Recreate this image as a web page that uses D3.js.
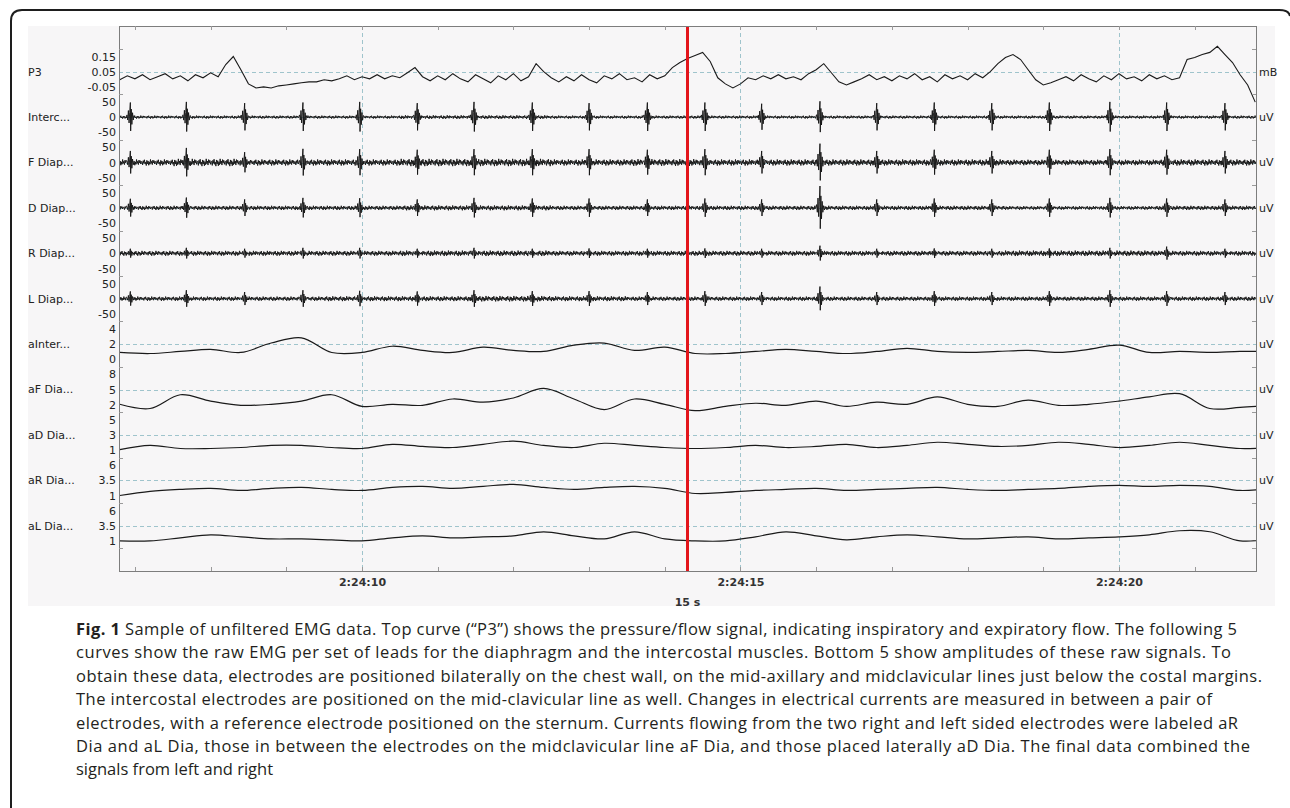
<!DOCTYPE html>
<html>
<head>
<meta charset="utf-8">
<script src="https://cdn.jsdelivr.net/npm/d3@7"></script>
<style>
body { margin: 0; background: #fff; }
svg { display: block; }
</style>
</head>
<body>
<script>
var width = 1290, height = 808

// time is seconds after 2:24:00
var timeStart = 6.79
var timeEnd = 21.81
var majorTicks = [10, 15, 20]
var cursorTime = 14.3
var spanLabel = "15 s"

var channels = ["P3", "Interc...", "F Diap...", "D Diap...", "R Diap...", "L Diap...",
  "aInter...", "aF Dia...", "aD Dia...", "aR Dia...", "aL Dia..."]
var units = ["mB", "uV", "uV", "uV", "uV", "uV", "uV", "uV", "uV", "uV", "uV"]
var tickLabels = [
  [0.15, 0.05, -0.05], [50, 0, -50], [50, 0, -50], [50, 0, -50], [50, 0, -50], [50, 0, -50],
  [4, 2, 0], [8, 5, 2], [5, 3, 1], [6, 3.5, 1], [6, 3.5, 1]
]

// pressure/flow (mB), one value every 0.1 s from 6.8 s
var p3Start = 6.8, p3Step = 0.1
var p3 = [
  -0.003,0.023,0.003,0.03,-0.003,0.017,0.037,0.003,0.023,-0.01,0.03,0.01,0.043,0.017,
  0.097,0.15,0.063,
  -0.03,-0.057,-0.05,-0.057,
  -0.043,-0.037,-0.03,-0.023,-0.017,-0.017,-0.003,-0.01,
  0.003,0.023,-0.003,0.017,0.003,0.03,0.003,0.023,0.01,0.043,0.077,0.017,
  -0.01,0.023,-0.003,0.037,0.003,-0.017,0.03,0.003,-0.023,0.023,-0.003,0.037,-0.01,0.017,
  0.103,0.05,0.01,-0.017,
  0.017,-0.01,0.03,-0.003,-0.023,0.023,0.003,0.037,-0.003,0.01,-0.017,0.03,0.003,0.023,
  0.077,0.11,0.137,0.157,0.177,
  0.117,0.01,-0.03,-0.057,-0.03,0.01,
  -0.003,0.023,0.003,0.03,0.003,0.017,-0.003,0.037,0.063,0.103,0.043,-0.017,-0.037,-0.017,
  0.003,0.03,-0.003,0.017,-0.01,0.023,0.003,0.037,-0.003,0.017,-0.017,0.03,0.003,0.023,-0.003,0.037,0.01,0.05,
  0.103,0.143,0.163,0.13,0.063,
  -0.003,-0.037,-0.023,-0.003,
  0.017,-0.01,0.03,0.003,-0.017,0.023,-0.003,0.037,0.003,0.017,-0.01,0.03,0.003,0.023,-0.003,0.01,
  0.13,0.143,0.163,0.177,0.217,0.163,0.11,0.03,-0.037,-0.15
]

// heart beat artefacts seen in the raw EMG, seconds
var beats = [6.94,7.68,8.45,9.22,9.97,10.73,11.48,12.25,13.00,13.77,14.53,15.28,16.05,16.80,17.56,18.32,19.08,19.88,20.63,21.40]

// spike height per beat (uV) for the five raw channels
var spikeInterc = [48,50,46,48,50,46,50,48,46,48,48,44,52,46,48,46,48,50,48,46]
var spikeFDiap = [38,48,34,45,44,42,44,44,44,42,44,38,62,38,42,38,42,44,42,38]
var spikeDDiap = [30,34,28,33,32,28,33,31,31,28,31,28,72,28,31,28,31,33,31,28]
var spikeRDiap = [15,18,15,18,18,15,18,15,16,15,16,15,25,15,16,15,16,18,22,15]
var spikeLDiap = [24,28,22,28,26,24,28,25,25,22,25,22,40,22,25,22,25,28,25,22]

// half width of the noise band (uV), one value per second from 7 s
var noiseInterc = [5,5,5,5,6,6,5,5,5,5,5,5,5,5,5,5]
var noiseFDiap = [10,12,10,10,12,12,10,11,10,10,10,10,9,9,10,10]
var noiseDDiap = [7,7,7,7,8,8,7,7,7,7,7,7,6,6,7,7]
var noiseRDiap = [8,8,8,8,9,9,8,8,8,8,8,8,9,9,8,8]
var noiseLDiap = [7,7,7,8,8,9,8,7,7,7,7,7,7,7,7,7]

// amplitudes, one value every 0.4 s from 6.8 s
var ampStart = 6.8, ampStep = 0.4
var aInter = [0.90,0.76,1.03,1.31,0.90,2.14,2.83,0.90,0.90,1.72,1.17,0.90,1.59,1.17,1.03,1.86,2.14,1.17,1.59,0.76,
  0.76,1.03,1.31,1.03,0.76,1.03,1.45,1.03,0.90,1.03,1.17,0.90,1.31,1.86,0.90,1.03,0.90,1.03,1.03]
var aFDia = [2.08,1.25,3.96,2.71,1.88,2.08,2.71,3.96,1.67,2.08,1.88,3.13,2.50,3.33,5.21,3.13,1.04,3.13,2.08,0.83,
  1.67,2.29,1.88,2.71,1.67,2.50,2.08,3.54,2.08,1.67,2.92,1.88,2.08,2.71,3.54,4.17,1.25,1.46,1.88]
var aDDia = [1.07,1.62,1.21,1.21,1.34,1.62,1.62,1.34,1.21,1.76,1.48,1.34,1.76,2.17,1.62,1.34,1.90,1.62,1.34,1.21,
  1.34,1.62,1.34,1.48,1.76,1.34,1.62,2.03,1.76,1.48,1.62,2.03,1.76,1.34,1.62,2.03,1.62,1.21,1.34]
var aRDia = [1.0,1.67,2.0,2.17,1.83,2.17,2.33,2.0,1.83,2.33,2.5,2.17,2.5,2.83,2.33,2.0,2.33,2.5,2.17,1.33,
  1.5,1.83,2.0,2.17,1.83,2.0,2.17,2.33,2.0,1.83,2.0,2.17,2.5,2.67,2.5,2.67,2.5,1.83,2.17]
var aLDia = [1.0,1.0,1.5,2.0,1.67,1.33,1.33,1.17,1.0,1.5,1.83,1.5,1.67,1.83,2.5,1.83,1.33,2.5,1.33,1.0,
  1.0,1.67,2.5,1.83,1.17,1.67,2.0,1.67,1.33,1.5,1.67,1.33,1.5,1.67,2.0,2.67,2.5,1.0,1.33]

var captionLines = [
  "Sample of unfiltered EMG data. Top curve (\u201cP3\u201d) shows the pressure/flow signal, indicating inspiratory and expiratory flow. The following 5",
  "curves show the raw EMG per set of leads for the diaphragm and the intercostal muscles. Bottom 5 show amplitudes of these raw signals. To",
  "obtain these data, electrodes are positioned bilaterally on the chest wall, on the mid-axillary and midclavicular lines just below the costal margins.",
  "The intercostal electrodes are positioned on the mid-clavicular line as well. Changes in electrical currents are measured in between a pair of",
  "electrodes, with a reference electrode positioned on the sternum. Currents flowing from the two right and left sided electrodes were labeled aR",
  "Dia and aL Dia, those in between the electrodes on the midclavicular line aF Dia, and those placed laterally aD Dia. The final data combined the",
  "signals from left and right"
]
var captionEnds = [1237, 1231, 1262, 1212, 1238, 1250, null]

var emg = [
  {ch: 1, spikes: spikeInterc, noise: noiseInterc},
  {ch: 2, spikes: spikeFDiap, noise: noiseFDiap},
  {ch: 3, spikes: spikeDDiap, noise: noiseDDiap},
  {ch: 4, spikes: spikeRDiap, noise: noiseRDiap},
  {ch: 5, spikes: spikeLDiap, noise: noiseLDiap}
]
var amps = [
  {ch: 6, values: aInter}, {ch: 7, values: aFDia}, {ch: 8, values: aDDia},
  {ch: 9, values: aRDia}, {ch: 10, values: aLDia}
]

// shape of one artefact burst and the texture of the noise band
var spikeOffsets = [-0.045,-0.035,-0.026,-0.017,-0.009,0,0.004,0.012,0.02,0.029,0.038,0.048]
var spikeShapeVals = [0.15,-0.2,0.45,-0.4,0.3,1,-0.95,0.55,-0.5,0.3,-0.2,0.1]
var jitter = [0.3,-0.8,0.6,-0.2,0.9,-0.5,0.1,-1,0.7,-0.4,0.5,-0.9,0.2,-0.6,1,-0.3,0.4,-0.7,0.8,-0.1,0.6,-0.5,0.3]

var plot = {left: 119, right: 1256, top: 26, bottom: 571}

var x = d3.scaleLinear().domain([timeStart, timeEnd]).range([plot.left, plot.right])
var band = d3.scaleBand().domain(channels).range([49, 548.4])

function yScale(i) {
  var y0 = band(channels[i]), bw = band.bandwidth()
  var t = tickLabels[i]
  return d3.scaleLinear().domain([t[2], t[0]]).range([y0 + bw - 7.5, y0 + 7.5])
}

function emgPoints(e, k) {
  var pts = []
  var n = 0
  for (var t = timeStart; t <= timeEnd; t += 0.008) {
    n++
    var near = beats.some(function(b) { return t > b - 0.047 && t < b + 0.05 })
    if (near) continue
    var env = e.noise[Math.max(0, Math.min(e.noise.length - 1, Math.round(t - 7)))]
    pts.push([t, env * jitter[(n + k * 7) % jitter.length]])
  }
  // beat bursts
  e.spikes.forEach(function(a, j) {
    spikeOffsets.forEach(function(o, m) {
      pts.push([beats[j] + o, a * spikeShapeVals[m]])
    })
  })
  return pts.sort(function(a, b) { return a[0] - b[0] })
}

var svg = d3.select("body")
  .append("svg")
  .attr("width", width)
  .attr("height", height)

// outer frame
svg.append("path")
  .attr("d", "M11,808 V21 Q11,10 22,10 H1279 Q1289,10 1290,16")
  .attr("fill", "none")
  .attr("stroke", "#1e1e1e")
  .attr("stroke-width", 2)

svg.append("rect")
  .attr("x", 28).attr("y", 26)
  .attr("width", 1247).attr("height", 580)
  .attr("fill", "#f7f6f7")

svg.append("defs").append("clipPath")
  .attr("id", "plotClip")
  .append("rect")
  .attr("x", plot.left).attr("y", plot.top)
  .attr("width", plot.right - plot.left).attr("height", plot.bottom - plot.top)

var grid = svg.append("g")
  .attr("stroke", "#9fc4cc")
  .attr("stroke-width", 1)
  .attr("stroke-dasharray", "4,3")

grid.selectAll(".vgrid")
  .data(majorTicks)
  .enter()
  .append("line")
  .attr("x1", function(d) { return Math.round(x(d)) + 0.5 })
  .attr("x2", function(d) { return Math.round(x(d)) + 0.5 })
  .attr("y1", plot.top)
  .attr("y2", plot.bottom)

grid.selectAll(".hgrid")
  .data(tickLabels)
  .enter()
  .append("line")
  .attr("x1", plot.left)
  .attr("x2", plot.right)
  .attr("y1", function(d, i) { return Math.round(yScale(i)(d[1])) + 0.5 })
  .attr("y2", function(d, i) { return Math.round(yScale(i)(d[1])) + 0.5 })

var traces = svg.append("g").attr("clip-path", "url(#plotClip)")

var p3Line = d3.line()
  .x(function(d, i) { return x(p3Start + i * p3Step) })
  .y(function(d) { return yScale(0)(d) })

traces.append("path")
  .datum(p3)
  .attr("d", p3Line)
  .attr("fill", "none")
  .attr("stroke", "#1a1a1a")
  .attr("stroke-width", 1.1)

emg.forEach(function(e, k) {
  var ys = yScale(e.ch)
  traces.append("path")
    .datum(emgPoints(e, k))
    .attr("d", d3.line()
      .x(function(d) { return x(d[0]) })
      .y(function(d) { return ys(d[1]) }))
    .attr("fill", "none")
    .attr("stroke", "#111")
    .attr("stroke-width", 0.9)
})

amps.forEach(function(a) {
  var ys = yScale(a.ch)
  traces.append("path")
    .datum(a.values)
    .attr("d", d3.line()
      .x(function(d, i) { return x(ampStart + i * ampStep) })
      .y(function(d) { return ys(d) })
      .curve(d3.curveCatmullRom))
    .attr("fill", "none")
    .attr("stroke", "#1a1a1a")
    .attr("stroke-width", 1.2)
})

// cursor
svg.append("line")
  .attr("x1", x(cursorTime)).attr("x2", x(cursorTime))
  .attr("y1", plot.top).attr("y2", plot.bottom)
  .attr("stroke", "#e3151b")
  .attr("stroke-width", 3)

svg.append("rect")
  .attr("x", plot.left + 0.5).attr("y", plot.top + 0.5)
  .attr("width", plot.right - plot.left).attr("height", plot.bottom - plot.top)
  .attr("fill", "none")
  .attr("stroke", "#7d7d7d")

// minor second ticks, top and bottom
var seconds = d3.range(Math.ceil(timeStart), Math.floor(timeEnd) + 1)
var tickG = svg.append("g").attr("stroke", "#9a9a9a")
tickG.selectAll(".tb")
  .data(seconds)
  .enter()
  .append("line")
  .attr("x1", function(d) { return Math.round(x(d)) + 0.5 })
  .attr("x2", function(d) { return Math.round(x(d)) + 0.5 })
  .attr("y1", plot.bottom)
  .attr("y2", plot.bottom - 4)
tickG.selectAll(".tt")
  .data(seconds)
  .enter()
  .append("line")
  .attr("x1", function(d) { return Math.round(x(d)) + 0.5 })
  .attr("x2", function(d) { return Math.round(x(d)) + 0.5 })
  .attr("y1", plot.top)
  .attr("y2", plot.top + 4)

// channel boundary ticks on both sides
var bounds = channels.map(function(c) { return band(c) }).concat([band.range()[1]])
tickG.selectAll(".bl")
  .data(bounds)
  .enter()
  .append("line")
  .attr("x1", plot.left).attr("x2", plot.left + 4)
  .attr("y1", function(d) { return Math.round(d) + 0.5 })
  .attr("y2", function(d) { return Math.round(d) + 0.5 })
tickG.selectAll(".br")
  .data(bounds)
  .enter()
  .append("line")
  .attr("x1", plot.right).attr("x2", plot.right - 4)
  .attr("y1", function(d) { return Math.round(d) + 0.5 })
  .attr("y2", function(d) { return Math.round(d) + 0.5 })

var labelFont = "'DejaVu Sans', Verdana, sans-serif"

channels.forEach(function(c, i) {
  var ys = yScale(i)
  var ax = svg.append("g")
    .attr("transform", "translate(" + (plot.left - 3) + ",0)")
    .call(d3.axisLeft(ys).tickValues(tickLabels[i]).tickSize(0).tickPadding(0)
      .tickFormat(function(d) { return String(d) }))
  ax.select(".domain").remove()
  ax.selectAll("text")
    .attr("font-family", labelFont)
    .attr("font-size", 11)
    .attr("fill", "#222")

  svg.append("text")
    .attr("x", 28)
    .attr("y", band(c) + band.bandwidth() / 2)
    .attr("dy", "0.35em")
    .attr("font-family", labelFont)
    .attr("font-size", 11)
    .attr("fill", "#222")
    .text(c)

  svg.append("text")
    .attr("x", plot.right + 3)
    .attr("y", ys(tickLabels[i][1]))
    .attr("dy", "0.35em")
    .attr("font-family", labelFont)
    .attr("font-size", 11)
    .attr("fill", "#222")
    .text(units[i])
})

var xAxis = svg.append("g")
  .attr("transform", "translate(0," + (plot.bottom + 4) + ")")
  .call(d3.axisBottom(x).tickValues(majorTicks).tickSize(0)
    .tickFormat(function(d) { return "2:24:" + d }))
xAxis.select(".domain").remove()
xAxis.selectAll("text")
  .attr("font-family", labelFont)
  .attr("font-size", 11)
  .attr("font-weight", "bold")
  .attr("fill", "#333")

svg.append("text")
  .attr("x", (plot.left + plot.right) / 2)
  .attr("y", 606)
  .attr("text-anchor", "middle")
  .attr("font-family", labelFont)
  .attr("font-size", 11)
  .attr("font-weight", "bold")
  .attr("fill", "#333")
  .text(spanLabel)

// caption
var cap = svg.append("g")
  .attr("font-family", "'Open Sans', sans-serif")
  .attr("font-size", 16.5)
  .attr("fill", "#231f20")

captionLines.forEach(function(line, i) {
  var t = cap.append("text")
    .attr("x", 76)
    .attr("y", 635 + i * 23.4)
  if (captionEnds[i]) {
    t.attr("textLength", captionEnds[i] - 76).attr("lengthAdjust", "spacing")
  }
  if (i === 0) {
    t.append("tspan").attr("font-weight", "bold").text("Fig. 1 ")
  }
  t.append("tspan").text(line)
})
</script>
</body>
</html>
